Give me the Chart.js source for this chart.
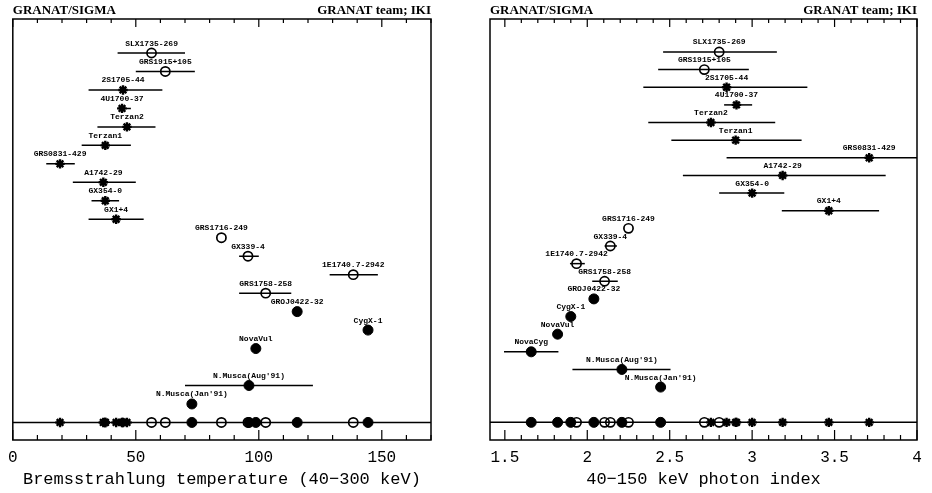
<!DOCTYPE html>
<html><head><meta charset="utf-8">
<script src="https://cdn.jsdelivr.net/npm/chart.js@4.4.1/dist/chart.umd.min.js"></script>
<style>
html,body{margin:0;padding:0;background:#fff;width:932px;height:493px;overflow:hidden}
#cl{position:absolute;left:0;top:0}
#cr{position:absolute;left:466px;top:0}
</style></head><body>
<canvas id="cl" width="466" height="493"></canvas>
<canvas id="cr" width="466" height="493"></canvas>
<script>
// ---- data ----
const sources = ["SLX1735-269","GRS1915+105","2S1705-44","4U1700-37","Terzan2","Terzan1","GRS0831-429","A1742-29","GX354-0","GX1+4","GRS1716-249","GX339-4","1E1740.7-2942","GRS1758-258","GROJ0422-32","CygX-1","NovaVul","NovaCyg","N.Musca(Aug'91)","N.Musca(Jan'91)"];
const markerTypes = ["open","open","star","star","star","star","star","star","star","star","open","open","open","open","filled","filled","filled","filled","filled","filled"];
const tempValues = [56.4, 62, 44.8, 44.4, 46.4, 37.6, 19.2, 36.8, 37.6, 42, 84.8, 95.6, 138.4, 102.8, 115.6, 144.4, 98.8, null, 96, 72.8];
const tempLow    = [42.6, 50, 30.8, 42.4, 34.4, 28, 13.6, 24.4, 32, 30.8, null, 92, 128.8, 92, null, null, null, null, 70, null];
const tempHigh   = [70, 74, 60.8, 48, 58, 48, 25.2, 50, 43.2, 53.2, null, 100, 148.4, 113.2, null, null, null, null, 122, null];
const indexValues = [2.80, 2.71, 2.845, 2.905, 2.75, 2.90, 3.71, 3.185, 3.00, 3.465, 2.25, 2.14, 1.935, 2.105, 2.04, 1.90, 1.82, 1.66, 2.21, 2.445];
const indexLow    = [2.46, 2.43, 2.34, 2.83, 2.37, 2.51, 2.845, 2.58, 2.80, 3.18, null, 2.105, 1.895, 2.03, null, null, null, 1.495, 1.91, null];
const indexHigh   = [3.15, 2.98, 3.335, 3.00, 3.14, 3.30, 4.10, 3.81, 3.195, 3.77, null, 2.18, 1.985, 2.185, null, null, null, 1.825, 2.505, null];
const tempTickLabels = [0, 50, 100, 150];
const indexTickLabels = [1.5, 2, 2.5, 3, 3.5, 4];
const headerLeft = "GRANAT/SIGMA";
const headerRight = "GRANAT team; IKI";
const tempTitle = "Bremsstrahlung temperature (40\u2212300 keV)";
const indexTitle = "40\u2212150 keV photon index";

// ---- drawing ----
const MONO = "'Liberation Mono', 'DejaVu Sans Mono', monospace";

function styleFor(t) {
  if (t === 'star') return {ps: 'star', bg: '#000', bw: 2.4, r: 4.7};
  if (t === 'open') return {ps: 'circle', bg: 'rgba(0,0,0,0)', bw: 1.7, r: 4.6};
  return {ps: 'circle', bg: '#000', bw: 1, r: 5};
}

const framePlugin = {
  id: 'frame',
  afterDatasetsDraw(chart, args, opts) {
    const ctx = chart.ctx, a = chart.chartArea, xs = chart.scales.x, ys = chart.scales.y;
    ctx.save();
    ctx.strokeStyle = '#000';
    ctx.lineWidth = 1.5;
    ctx.strokeRect(a.left, a.top, a.right - a.left, a.bottom - a.top);
    ctx.lineWidth = 1.2;
    xs.ticks.forEach(t => {
      const px = xs.getPixelForValue(t.value);
      const major = opts.major.some(m => Math.abs(m - t.value) < 1e-9);
      ctx.beginPath();
      ctx.moveTo(px, a.top); ctx.lineTo(px, a.top + (major ? 8 : 4));
      ctx.moveTo(px, a.bottom); ctx.lineTo(px, a.bottom - (major ? 10 : 5));
      ctx.stroke();
    });
    // source labels
    ctx.fillStyle = '#000';
    ctx.font = "bold 8px " + MONO;
    ctx.textAlign = 'center';
    ctx.textBaseline = 'middle';
    opts.values.forEach((v, i) => {
      if (v == null) return;
      ctx.fillText(sources[i], xs.getPixelForValue(v), ys.getPixelForValue(i) - 9.5);
    });
    // header
    ctx.font = "bold 13px 'Liberation Serif', 'DejaVu Serif', serif";
    ctx.textBaseline = 'middle';
    ctx.textAlign = 'left';
    ctx.fillText(headerLeft, a.left, 11);
    ctx.textAlign = 'right';
    ctx.fillText(headerRight, a.right, 11);
    ctx.restore();
  }
};

function makeChart(id, c) {
  const datasets = [];
  // error bars
  c.values.forEach((v, i) => {
    if (v == null || c.lo[i] == null) return;
    datasets.push({type: 'line', data: [{x: c.lo[i], y: i}, {x: c.hi[i], y: i}],
      borderColor: '#000', borderWidth: 1.5, pointRadius: 0, showLine: true, order: 3});
  });
  // baseline
  datasets.push({type: 'line', data: [{x: c.min, y: c.base}, {x: c.max, y: c.base}],
    borderColor: '#000', borderWidth: 1.5, pointRadius: 0, showLine: true, order: 2});
  // markers: rows and the projected baseline
  [false, true].forEach(onBase => {
    const pts = [], ps = [], bg = [], bw = [], rr = [];
    c.values.forEach((v, i) => {
      if (v == null) return;
      const s = styleFor(markerTypes[i]);
      pts.push({x: v, y: onBase ? c.base : i});
      ps.push(s.ps); bg.push(s.bg); bw.push(s.bw); rr.push(s.r);
    });
    datasets.push({type: 'scatter', data: pts, pointStyle: ps, backgroundColor: bg,
      borderColor: '#000', borderWidth: bw, pointRadius: rr, order: 0});
  });

  return new Chart(document.getElementById(id), {
    type: 'scatter',
    data: {datasets},
    options: {
      responsive: false, animation: false, events: [],
      layout: {padding: c.pad},
      plugins: {legend: {display: false}, tooltip: {enabled: false}, title: {display: false},
        frame: {major: c.major, values: c.values}},
      scales: {
        x: {
          type: 'linear', min: c.min, max: c.max,
          afterBuildTicks: s => {
            const t = [];
            for (let k = Math.ceil(c.min / c.step - 1e-9); k * c.step <= c.max + 1e-9; k++) {
              t.push({value: Math.round(k * c.step * 1000) / 1000});
            }
            s.ticks = t;
          },
          afterFit: s => { s.height = 53; },
          grid: {display: false, drawTicks: false},
          border: {display: false},
          ticks: {autoSkip: false, maxRotation: 0, minRotation: 0, padding: 8, color: '#000',
            font: {family: MONO, size: 16},
            callback: v => c.major.some(m => Math.abs(m - v) < 1e-9) ? String(v) : ''},
          title: {display: true, text: c.title, color: '#000',
            font: {family: MONO, size: 17}, padding: {top: 0, bottom: 3}}
        },
        y: {type: 'linear', display: false, reverse: true, min: c.ymin, max: c.ymax}
      }
    },
    plugins: [framePlugin]
  });
}

makeChart('cl', {values: tempValues, lo: tempLow, hi: tempHigh, min: 0, max: 170, step: 10,
  major: tempTickLabels, base: 20, ymin: -1.84, ymax: 20.95, title: tempTitle,
  pad: {left: 6, right: 35, top: 19, bottom: 0}});
makeChart('cr', {values: indexValues, lo: indexLow, hi: indexHigh, min: 1.41, max: 4, step: 0.1,
  major: indexTickLabels, base: 21, ymin: -1.87, ymax: 22.0, title: indexTitle,
  pad: {left: 24, right: 15, top: 19, bottom: 0}});
</script>
</body></html>
